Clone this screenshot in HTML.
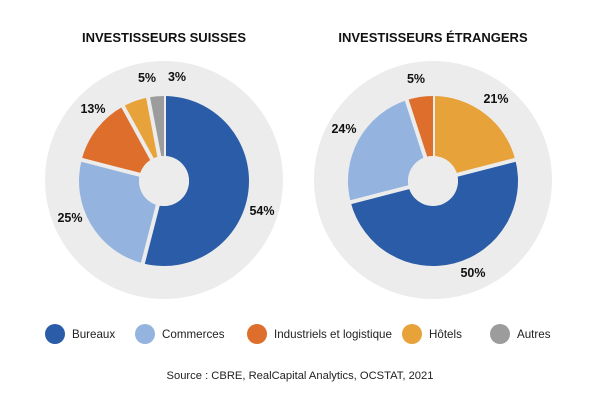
<!DOCTYPE html>
<html><head><meta charset="utf-8"><style>
body{margin:0;background:#fff;width:600px;height:400px;overflow:hidden;font-family:"Liberation Sans",sans-serif}
</style></head><body>
<svg id="s" width="600" height="400" xmlns="http://www.w3.org/2000/svg" font-family="Liberation Sans, sans-serif">
<text x="164" y="42" text-anchor="middle" font-weight="bold" font-size="13" fill="#111">INVESTISSEURS SUISSES</text>
<text x="433" y="42" text-anchor="middle" font-weight="bold" font-size="13" fill="#111">INVESTISSEURS ÉTRANGERS</text>
<circle cx="164" cy="180" r="119" fill="#ececec"/>
<circle cx="433" cy="180" r="119" fill="#ececec"/>
<g id="p1"></g><g id="p2"></g>
<g font-size="12.5" font-weight="bold" fill="#111" text-anchor="middle">
<text x="262" y="215">54%</text><text x="70" y="222">25%</text><text x="93" y="113">13%</text>
<text x="147" y="82">5%</text><text x="177" y="81">3%</text>
<text x="496" y="103">21%</text><text x="344" y="133">24%</text><text x="416" y="83">5%</text><text x="473" y="277">50%</text>
</g>
<g font-size="11.6" fill="#222">
<circle cx="55" cy="334" r="10" fill="#2a5ca8"/><text x="72" y="338">Bureaux</text>
<circle cx="145" cy="334" r="10" fill="#94b4df"/><text x="162" y="338">Commerces</text>
<circle cx="257" cy="334" r="10" fill="#de6e2b"/><text x="274" y="338">Industriels et logistique</text>
<circle cx="412" cy="334" r="10" fill="#e8a23a"/><text x="429" y="338">Hôtels</text>
<circle cx="500" cy="334" r="10" fill="#9c9c9c"/><text x="517" y="338">Autres</text>
</g>
<text x="300" y="379" text-anchor="middle" font-size="11.2" fill="#222">Source : CBRE, RealCapital Analytics, OCSTAT, 2021</text>
</svg>
<script>
function pie(id,cx,cy,data){
 var g=document.getElementById(id),a=0,R=85,r=25,h='';
 data.forEach(function(d){
  var b=a+d[0]*3.6;
  function pt(rr,t){t=(t-90)*Math.PI/180;return (cx+rr*Math.cos(t)).toFixed(2)+' '+(cy+rr*Math.sin(t)).toFixed(2);}
  var l=(b-a)>180?1:0;
  h+='<path d="M'+pt(r,a)+' L'+pt(R,a)+' A'+R+' '+R+' 0 '+l+' 1 '+pt(R,b)+' L'+pt(r,b)+' A'+r+' '+r+' 0 '+l+' 0 '+pt(r,a)+'Z" fill="'+d[1]+'"/>';
  h+='<line x1="'+pt(0,a).replace(' ','" y1="')+'" x2="'+pt(R+2,a).replace(' ','" y2="')+'" stroke="#ececec" stroke-width="4"/>';
  a=b;
 });
 h+='<circle cx="'+cx+'" cy="'+cy+'" r="'+r+'" fill="#ececec"/>';
 g.innerHTML=h;
}
pie('p1',164,181,[[54,'#2a5ca8'],[25,'#94b4df'],[13,'#de6e2b'],[5,'#e8a23a'],[3,'#9c9c9c']]);
pie('p2',433,181,[[21,'#e8a23a'],[50,'#2a5ca8'],[24,'#94b4df'],[5,'#de6e2b']]);
</script>
</body></html>
